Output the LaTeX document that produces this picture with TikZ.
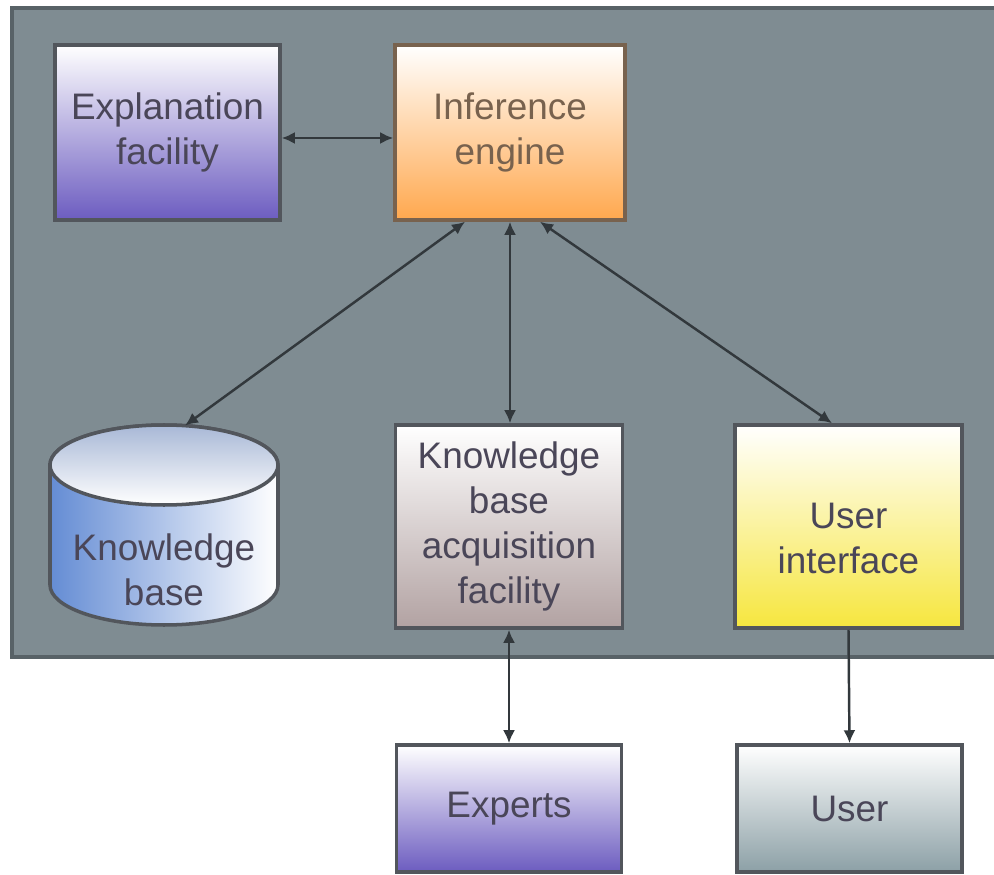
\documentclass[tikz,border=0pt]{standalone}
\usepackage{fontspec}
\setmainfont{Liberation Sans}
\usetikzlibrary{arrows.meta}

\definecolor{panelGray}{RGB}{127,140,146}
\definecolor{panelEdge}{RGB}{88,98,103}
\definecolor{edgeGray}{RGB}{82,86,92}
\definecolor{linkGray}{RGB}{50,56,60}
\definecolor{txtGray}{RGB}{74,70,88}
\definecolor{explPurple}{RGB}{108,92,192}
\definecolor{infOrange}{RGB}{255,168,78}
\definecolor{infEdge}{RGB}{120,98,78}
\definecolor{kbBlue}{RGB}{100,140,212}
\definecolor{kbTop}{RGB}{168,184,214}
\definecolor{kbaTaupe}{RGB}{178,162,162}
\definecolor{uiYellow}{RGB}{246,230,62}
\definecolor{userGray}{RGB}{140,160,166}

\begin{document}
\begin{tikzpicture}[
  box/.style={draw=edgeGray,line width=2pt,align=center,
              text=txtGray,font=\fontsize{21}{25.5}\selectfont,
              minimum width=4.5cm,minimum height=3.5cm},
  link/.style={linkGray,line width=1.4pt,
               {Latex[length=2.6mm,width=2.4mm]}-{Latex[length=2.6mm,width=2.4mm]}},
  linkTo/.style={linkGray,line width=1.4pt,
                 -{Latex[length=2.6mm,width=2.4mm]}}
]

\useasboundingbox (0,0) rectangle (19.88,17.48);
\fill[white] (0,0) rectangle (19.88,17.48);

\fill[panelGray] (0.24,4.34) rectangle (19.88,17.32);
\draw[panelEdge,line width=2.4pt]
     (19.88,17.32) -- (0.24,17.32)
     -- (0.24,4.34) -- (19.88,4.34);

\node[box,top color=white,bottom color=explPurple]
     at (3.35,14.83) (explCap)
     {Explanation\\facility};
\node[box,draw=infEdge,text=infEdge,top color=white,
      bottom color=infOrange,minimum width=4.6cm]
     at (10.2,14.83) (infCap)
     {Inference\\engine};

\shade[left color=kbBlue,right color=white,
       draw=edgeGray,line width=2pt]
     (1.0,8.18) -- (1.0,5.78)
     arc[start angle=180,end angle=360,x radius=2.28,y radius=0.8]
     -- (5.56,8.18)
     arc[start angle=0,end angle=180,x radius=2.28,y radius=0.8]
     -- cycle;
\shade[top color=kbTop,bottom color=white,
       draw=edgeGray,line width=2pt]
     (3.28,8.18) ellipse[x radius=2.28,y radius=0.8];
\node[text=txtGray,align=center,
      font=\fontsize{21}{25.5}\selectfont]
     at (3.28,6.08) (kbCap)
     {Knowledge\\base};
\coordinate (kbTop) at (3.7,8.97);

\node[box,top color=white,bottom color=kbaTaupe,
      minimum width=4.54cm,minimum height=4.06cm]
     at (10.18,6.95) (kbaCap)
     {Knowledge\\base\\acquisition\\facility};
\node[box,top color=white,bottom color=uiYellow,
      minimum width=4.54cm,minimum height=4.06cm]
     at (16.97,6.95) (uiCap)
     {\rule{0pt}{1cm}User\\interface};

\node[box,top color=white,bottom color=explPurple,
      minimum width=4.5cm,minimum height=2.54cm]
     at (10.18,1.31) (expCap)
     {Experts};
\node[box,top color=white,bottom color=userGray,
      minimum width=4.5cm,minimum height=2.54cm]
     at (16.99,1.31) (userCap)
     {User};

\draw[link] ([yshift=-0.11cm]explCap.east)
     -- ([yshift=-0.11cm]infCap.west);
\draw[link] ([xshift=-0.9cm]infCap.south) -- (kbTop);
\draw[link] (infCap.south) -- (infCap.south |- kbaCap.north);
\draw[link] ([xshift=0.6cm]infCap.south)
     -- ([xshift=-0.33cm]uiCap.north);
\draw[link] (kbaCap.south) -- (expCap.north);
\draw[linkTo] (uiCap.south) -- (userCap.north);

\end{tikzpicture}
\end{document}
